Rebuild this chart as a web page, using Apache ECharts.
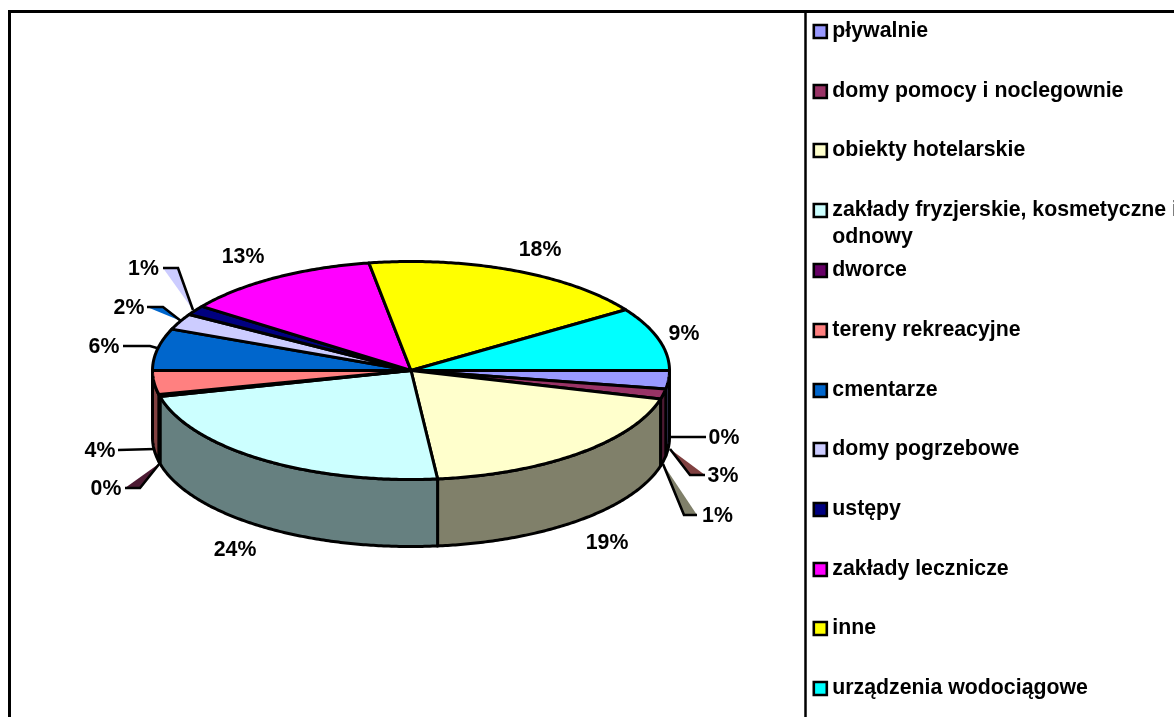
<!DOCTYPE html>
<html><head><meta charset="utf-8">
<style>html,body{margin:0;padding:0;background:#fff}#c{width:1174px;height:717px}</style>
<script src="https://cdn.jsdelivr.net/npm/echarts@6/dist/echarts.min.js"></script>
</head><body><div id="c"></div>
<script>
// Data (slice sizes, in percent, clockwise from 3 o'clock)
const categories = ['pływalnie','domy pomocy i noclegownie','obiekty hotelarskie','zakłady fryzjerskie, kosmetyczne i\nodnowy','dworce','tereny rekreacyjne','cmentarze','domy pogrzebowe','ustępy','zakłady lecznicze','inne','urządzenia wodociągowe',''];
const values = [2.7,1.5,19.16,22.8,0.3,3.54,6.2,2.4,1.4,12.4,18.2,9.4,0];
const valueLabels = ['3%','1%','19%','24%','0%','4%','6%','2%','1%','13%','18%','9%','0%'];
const colors = ['#9999FF','#993366','#FFFFCC','#CCFFFF','#660066','#FF8080','#0066CC','#CCCCFF','#000080','#FF00FF','#FFFF00','#00FFFF','#000000'];
const sideColors = ['#4D4D80','#4D1A33','#80806A','#668080','#330033','#804040','#003366','#666680','#000040','#800080','#808000','#008080','#000000'];

// Layout (pixels), separate from the data
const pie = {cx:411, cy:370.5, rx:258.5, ry:109, depth:67};
const labelPos = [[723,476],[717.5,516],[607,543],[235,550],[106,489],[100,451],[104,347],[129,308],[143.5,269],[243,257],[540,250],[684,334],[724,438]];
const leaders = [
  [[670,449],[690,475],[705,475]],
  [[663,464],[684,515],[697,515]],
  null,null,
  [[160,463],[140,488],[125,488]],
  [[155,449],[118,450]],
  [[157,348],[150,346],[123,346]],
  [[181,321],[163,307],[147,307]],
  [[193,310],[178,268],[163,268]],
  null,null,null,
  [[670,437],[706,437]]
];
const wedgeColors = ['#804040','#80806A',null,null,'#4D1A33',null,null,'#0066CC','#CCCCFF',null,null,null,null];
const legendY = [30,90,149,209,269,329,389,448,508,568,627,687];

const total = values.reduce((a,b)=>a+b,0);
const starts = values.map((_,i)=>values.slice(0,i).reduce((a,b)=>a+b,0));
const FONT = '"Liberation Sans", Arial, sans-serif';
const FS = 21.3;
const STROKE = 3;

function pt(t,dy){return [pie.cx+pie.rx*Math.cos(t), pie.cy+pie.ry*Math.sin(t)+(dy||0)];}
function arcPts(a,b,dy){const n=Math.max(2,Math.ceil(Math.abs(b-a)/0.01));const p=[];for(let k=0;k<=n;k++)p.push(pt(a+(b-a)*k/n,dy));return p;}

function renderSlice(i){
  return function(params,api){
    const v=api.value(0), s=api.value(1);
    const a=s/total*2*Math.PI, b=(s+v)/total*2*Math.PI;
    const children=[];
    if(v>0){
      const wa=Math.max(a,0), wb=Math.min(b,Math.PI);
      if(wb>wa){
        children.push({type:'polygon',z2:1,shape:{points:arcPts(wa,wb,0).concat(arcPts(wb,wa,pie.depth))},
          style:{fill:sideColors[i],stroke:'#000',lineWidth:STROKE,lineJoin:'round'}});
      }
      children.push({type:'polygon',z2:5,shape:{points:[[pie.cx,pie.cy]].concat(arcPts(a,b,0))},
        style:{fill:colors[i],stroke:'#000',lineWidth:STROKE,lineJoin:'round'}});
    }
    const L=leaders[i];
    if(L){
      if(wedgeColors[i]) children.push({type:'polygon',z2:2,shape:{points:L},style:{fill:wedgeColors[i],stroke:null}});
      children.push({type:'polyline',z2:3,shape:{points:L},style:{fill:null,stroke:'#000',lineWidth:2.6}});
    }
    children.push({type:'text',z2:6,x:labelPos[i][0],y:labelPos[i][1],
      style:{text:valueLabels[i],fill:'#000',font:'bold '+FS+'px '+FONT,align:'center',verticalAlign:'middle'}});
    return {type:'group',children};
  };
}

const series = categories.map((name,i)=>({
  type:'custom', name:name||'_', coordinateSystem:'none', silent:true, animation:false,
  itemStyle:{color:colors[i]},
  renderItem:renderSlice(i),
  data:[[values[i],starts[i]]]
}));

const legends = categories.slice(0,12).map((name,i)=>{
  const two=name.includes('\n');
  return {
    show:true, data:[name], left:812.5, top:legendY[i]-(two?39:12), padding:0,
    orient:'vertical', selectedMode:false, icon:'rect', itemWidth:13, itemHeight:13, itemGap:0,
    formatter:two?(n=>'\n'+n):undefined,
    itemStyle:{color:colors[i],borderColor:'#000',borderWidth:2.6},
    textStyle:{color:'#000',fontFamily:FONT,fontWeight:'bold',fontSize:FS,lineHeight:27,padding:[0,0,0,0.5],width:400,overflow:'none'}
  };
});

const chart = echarts.init(document.getElementById('c'),null,{width:1174,height:717});
chart.setOption({
  backgroundColor:'#fff', animation:false, tooltip:{show:false},
  legend:legends, series,
  graphic:[
    {type:'line',silent:true,shape:{x1:9,y1:11.5,x2:1174,y2:11.5},style:{stroke:'#000',lineWidth:3}},
    {type:'line',silent:true,shape:{x1:9.5,y1:10,x2:9.5,y2:717},style:{stroke:'#000',lineWidth:3}},
    {type:'line',silent:true,shape:{x1:805.5,y1:11,x2:805.5,y2:717},style:{stroke:'#000',lineWidth:2.5}}
  ]
});
</script></body></html>
